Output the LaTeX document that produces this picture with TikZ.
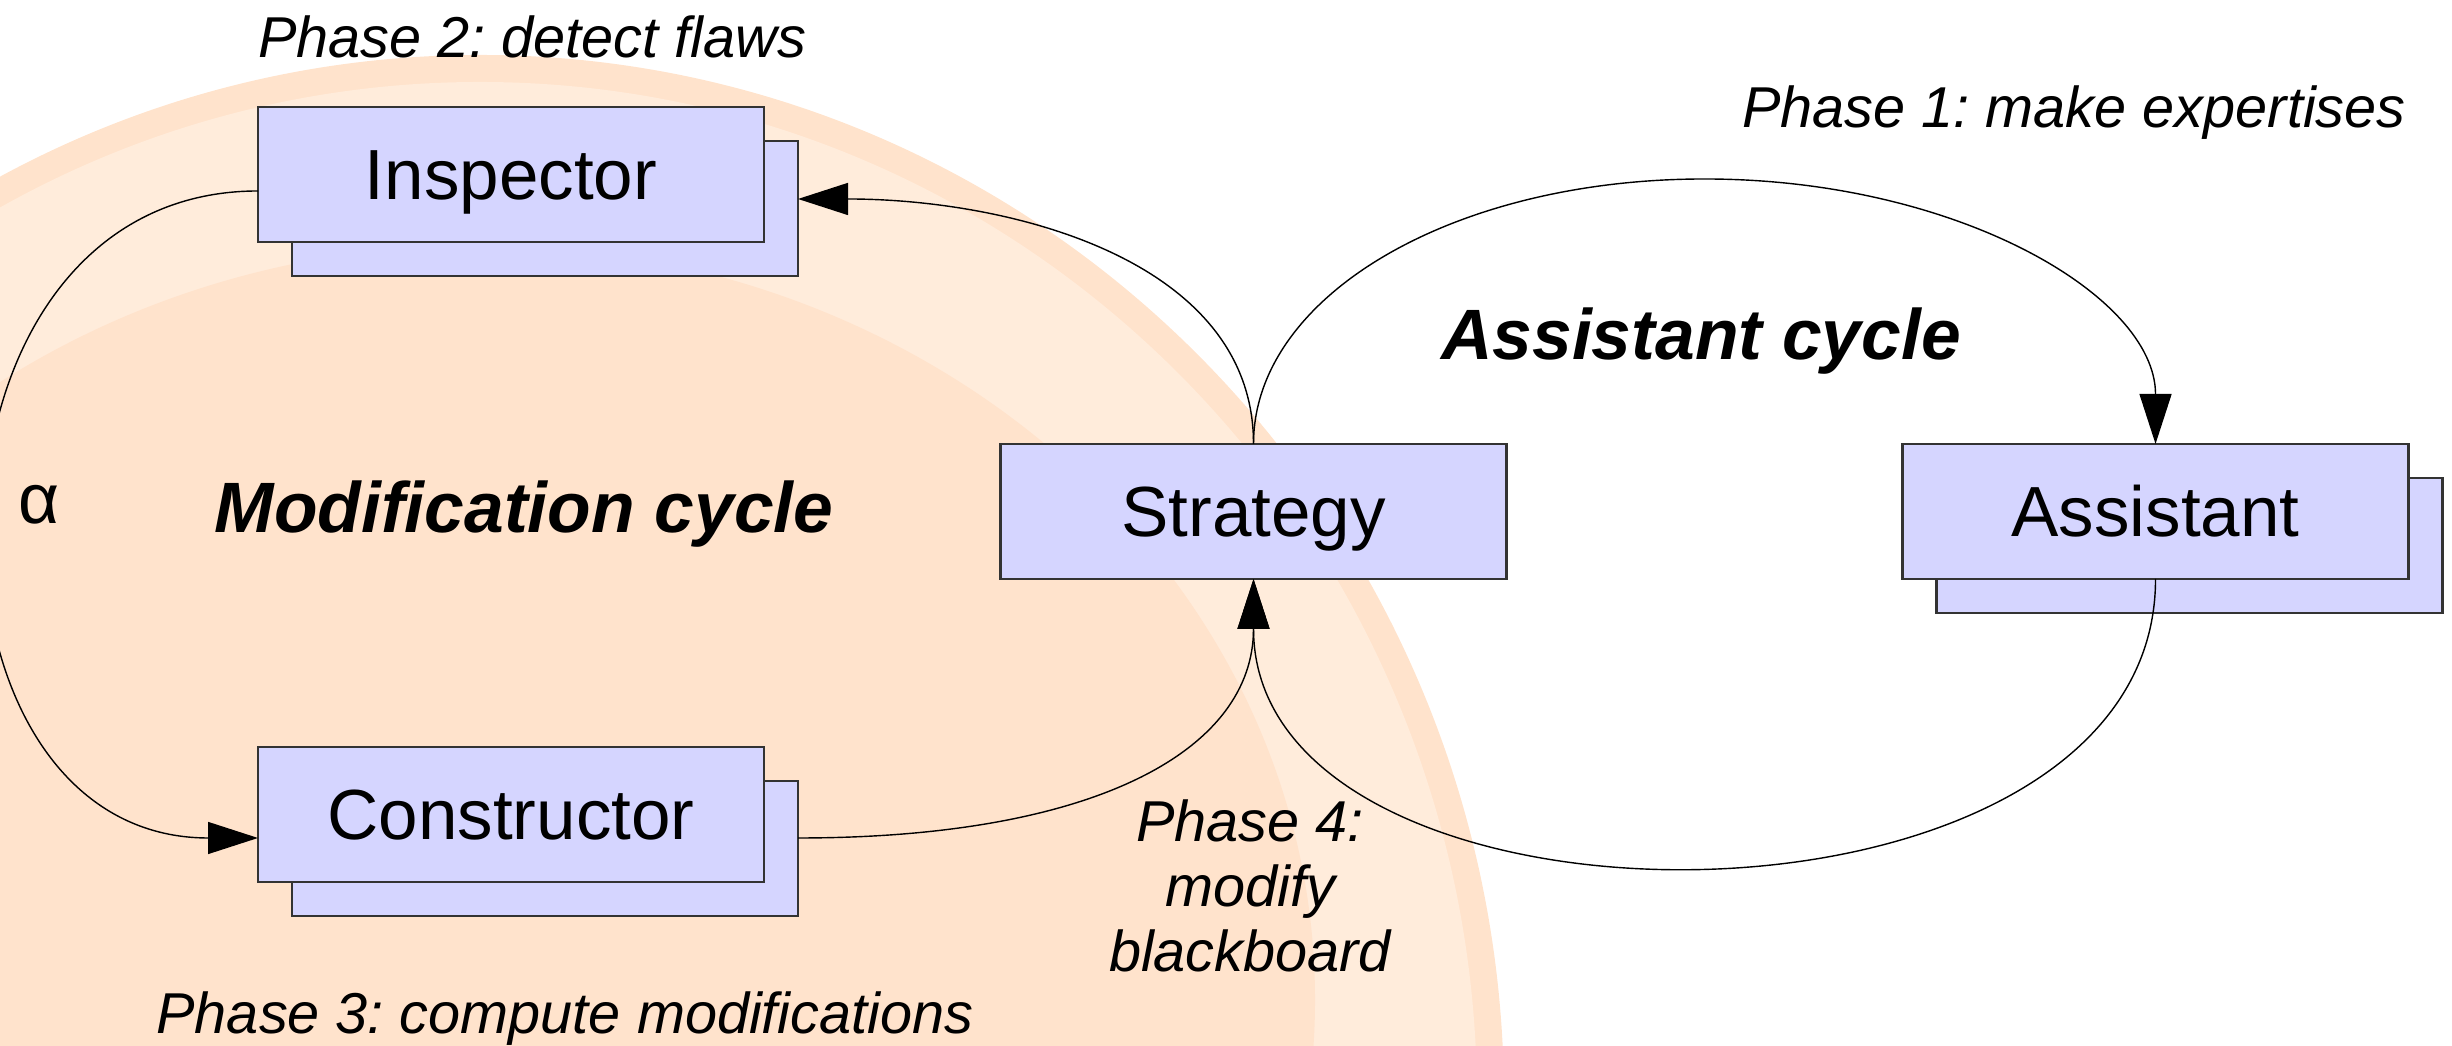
\documentclass[tikz,border=0pt]{standalone}
\usepackage{fontspec}
\setmainfont{Liberation Sans}
\usetikzlibrary{arrows.meta}
\usetikzlibrary{shadows}
\frenchspacing

\definecolor{peachdark}{RGB}{255,227,204}
\definecolor{peachlight}{RGB}{255,236,219}
\definecolor{boxfill}{RGB}{213,213,255}

\begin{document}
\begin{tikzpicture}[
    box/.style={draw=black!80, line width=0.6pt, fill=boxfill, minimum width=5.06cm,
      minimum height=1.35cm, inner sep=0pt, outer sep=0pt, text height=14.4pt, text depth=0pt,
      font=\fontsize{20.2}{24}\selectfont},
    stack/.style={copy shadow={shadow xshift=0.34cm, shadow yshift=-0.34cm}},
    phase/.style={font=\fontsize{16.4}{18.5}\selectfont\itshape, inner sep=0pt},
    cycle/.style={font=\fontsize{20.3}{24}\selectfont\bfseries\itshape, inner sep=0pt},
    arr/.style={line width=0.4pt, -{Triangle[length=5mm, width=3.2mm]}}
  ]
    \useasboundingbox (0,0) rectangle (24.52,10.46);
    \clip (0,0) rectangle (24.52,10.46);

    % background rings
    \fill[peachdark]  (4.80,-0.54) ellipse [x radius=10.24, y radius=10.45];
    \fill[peachlight] (4.80,-0.54) ellipse [x radius=9.97, y radius=10.18];
    \fill[peachdark]  (4.80,0.46) ellipse [x radius=8.35, y radius=7.55];

    \node[box, stack] (I) at (5.11, 8.715)  {Inspector};
    \node[box, stack] (C) at (5.11, 2.315)  {Constructor};
    \node[box]        (S) at (12.535, 5.345) {Strategy};
    \node[box, stack] (A) at (21.555, 5.345) {Assistant};
    \coordinate (top) at (17.045, 8.67);

    \node[phase, anchor=base] (P2) at (5.32, 9.88)  {Phase 2: detect flaws};
    \node[phase, anchor=base] (P1) at (20.74, 9.18) {Phase 1: make expertises};
    \node[phase, anchor=base] (P3) at (5.65, 0.12)  {Phase 3: compute modifications};
    \node[phase, align=center] (P4) at (12.50, 1.60) {Phase 4:\\modify\\blackboard};
    \node[cycle, anchor=base] (AC) at (17.01, 6.86) {Assistant cycle};
    \node[cycle, anchor=base] (MC) at (5.24, 5.13)  {Modification cycle};
    \node[font=\fontsize{20.2}{24}\selectfont, inner sep=0pt, anchor=base] (al) at (0.39, 5.22) {α};

    \draw[arr] (S.north) .. controls +(0,1.84) and +(2.12,0) .. ([xshift=3.4mm, yshift=-2.45mm]I.east);
    \draw[arr] (S.north) .. controls +(0,1.48) and +(-2.52,0) .. (top)
                         .. controls +(2.52,0) and +(0,1.48) .. (A.north);
    \draw[arr] (A.south) .. controls +(0,-3.79) and +(0,-3.79) .. (S.south);
    \draw[arr] ([xshift=3.4mm, yshift=-2.35mm]C.east) .. controls +(3.00,0) and +(0,-1.70) .. (S.south);
    \draw[arr] ([yshift=-1.65mm]I.west) .. controls +(-3.57,0) and +(-3.57,0) .. ([yshift=-2.35mm]C.west);

\end{tikzpicture}
\end{document}
